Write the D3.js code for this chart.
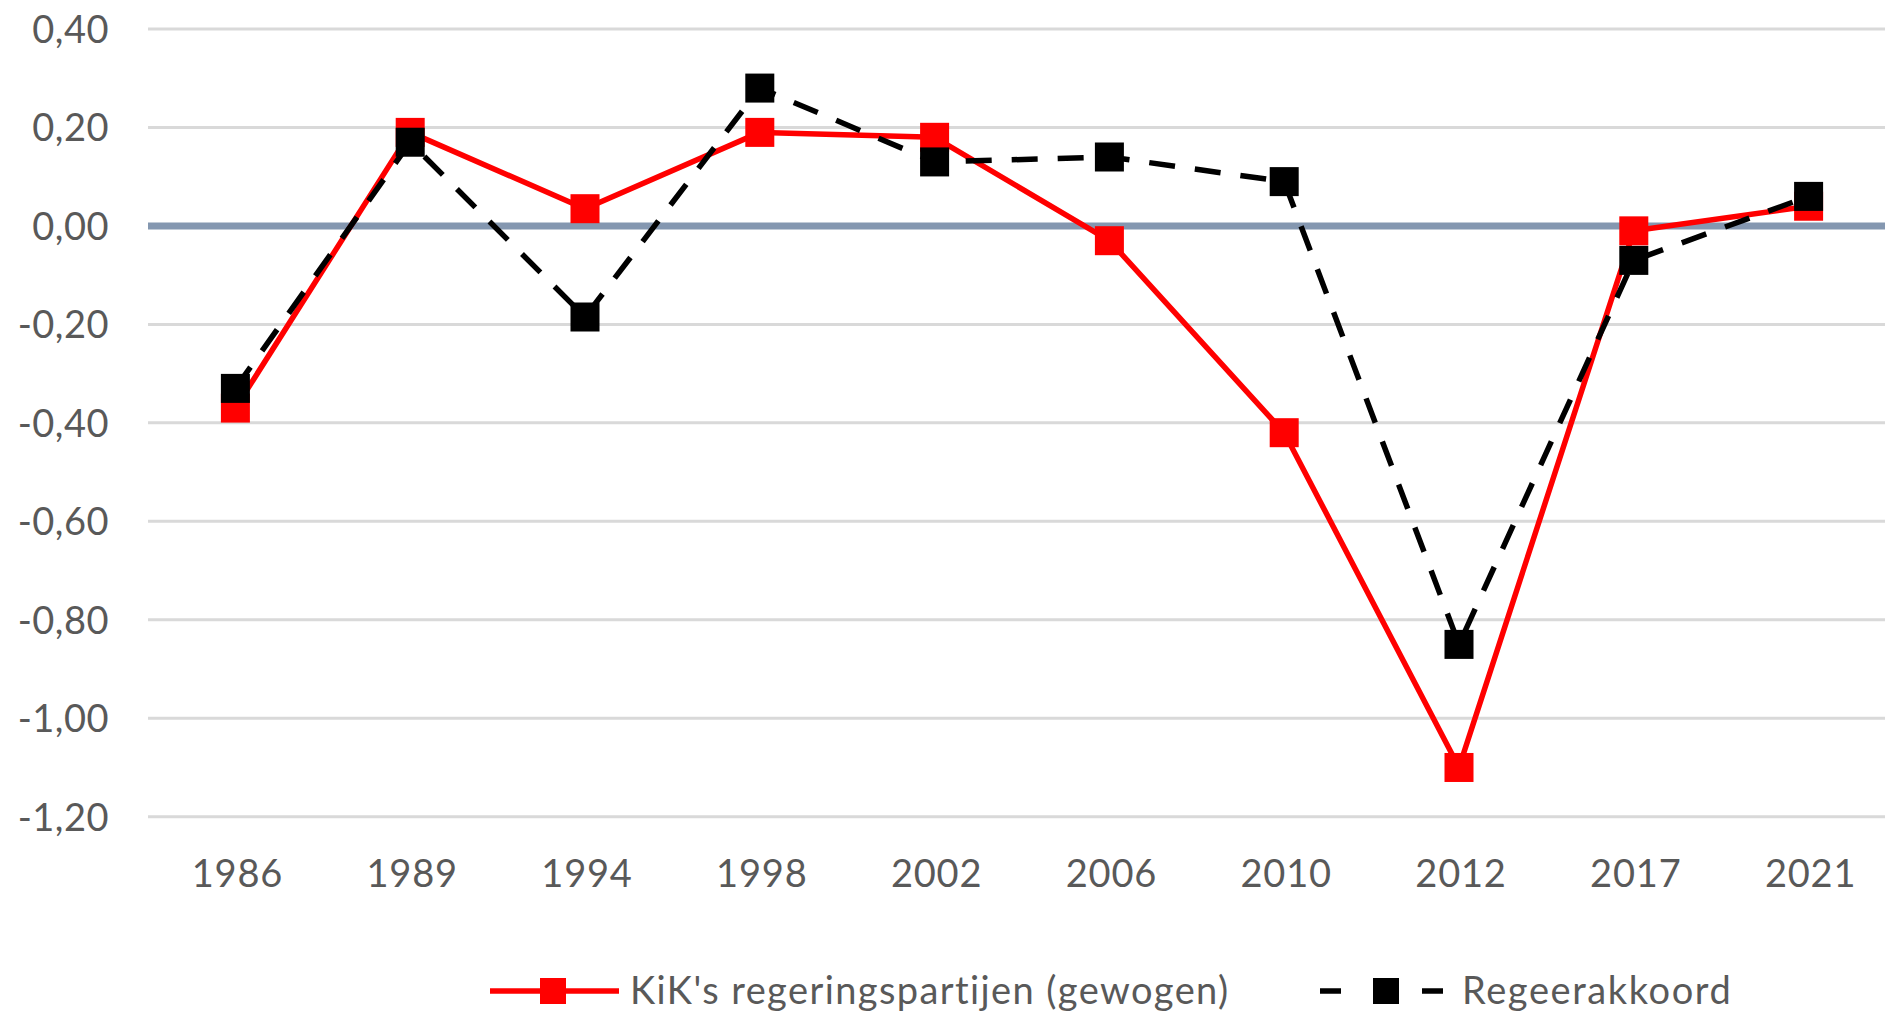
<!DOCTYPE html>
<html>
<head>
<meta charset="utf-8">
<script src="https://cdn.jsdelivr.net/npm/d3@7"></script>
<style>
  html, body { margin: 0; padding: 0; background: #fff; }
  svg { display: block; }
  text { font-family: Lato, "Open Sans", sans-serif; fill: #595959; }
</style>
</head>
<body>
<svg id="chart" width="1885" height="1014"></svg>
<script>
const categories = ["1986","1989","1994","1998","2002","2006","2010","2012","2017","2021"];
const kikValues = [-0.37, 0.19, 0.035, 0.19, 0.18, -0.03, -0.42, -1.10, -0.01, 0.04];
const regeerValues = [-0.33, 0.17, -0.185, 0.28, 0.13, 0.14, 0.09, -0.85, -0.07, 0.06];
const yTicks = [0.4, 0.2, 0, -0.2, -0.4, -0.6, -0.8, -1.0, -1.2];
const seriesNames = ["KiK's regeringspartijen (gewogen)", "Regeerakkoord"];

const svg = d3.select("#chart");
const W = 1885, H = 1014;
svg.append("rect").attr("width", W).attr("height", H).attr("fill", "#fff");

const x = d3.scaleBand().domain(categories).range([148, 1896]);
const y = d3.scaleLinear().domain([-1.2, 0.4]).range([816.7, 29]);
const fmt = v => d3.format(".2f")(v).replace(".", ",").replace("−", "-");

// gridlines
svg.append("g").selectAll("line").data(yTicks.filter(t => t !== 0)).join("line")
  .attr("x1", 148).attr("x2", W)
  .attr("y1", d => y(d)).attr("y2", d => y(d))
  .attr("stroke", "#d9d9d9").attr("stroke-width", 3);

// y axis labels
const yAxis = d3.axisLeft(y).tickValues(yTicks).tickFormat(fmt).tickSize(0).tickPadding(0);
const yg = svg.append("g").attr("transform", "translate(109,0)").call(yAxis);
yg.select(".domain").remove();
yg.selectAll("text").attr("font-size", 38).attr("font-family", "Lato, sans-serif")
  .attr("fill", "#595959").attr("dy", "0.35em").attr("letter-spacing", 0.5);

// zero axis line
svg.append("line").attr("x1", 148).attr("x2", W)
  .attr("y1", y(0)).attr("y2", y(0))
  .attr("stroke", "#8497b0").attr("stroke-width", 7);

// x axis labels
const xAxis = d3.axisBottom(x).tickSize(0).tickPadding(0);
const xg = svg.append("g").attr("transform", "translate(2,860)").call(xAxis);
xg.select(".domain").remove();
xg.selectAll("text").attr("font-size", 38).attr("font-family", "Lato, sans-serif")
  .attr("fill", "#595959").attr("dy", "0.71em").attr("letter-spacing", 0.8);

const cx = c => x(c) + x.bandwidth() / 2;
const line = d3.line().x((d, i) => cx(categories[i])).y(d => y(d));
const MS = 29;

// red series
svg.append("path").datum(kikValues).attr("d", line)
  .attr("fill", "none").attr("stroke", "#ff0000").attr("stroke-width", 5.5)
  .attr("stroke-linejoin", "round");
svg.append("g").selectAll("rect").data(kikValues).join("rect")
  .attr("x", (d, i) => cx(categories[i]) - MS / 2).attr("y", d => y(d) - MS / 2)
  .attr("width", MS).attr("height", MS).attr("fill", "#ff0000");

// black dashed series
svg.append("path").datum(regeerValues).attr("d", line)
  .attr("fill", "none").attr("stroke", "#000").attr("stroke-width", 5.5)
  .attr("stroke-dasharray", "26,20").attr("stroke-linejoin", "round");
svg.append("g").selectAll("rect").data(regeerValues).join("rect")
  .attr("x", (d, i) => cx(categories[i]) - MS / 2).attr("y", d => y(d) - MS / 2)
  .attr("width", MS).attr("height", MS).attr("fill", "#000");

// legend
const ly = 991;
const lg = svg.append("g");
lg.append("line").attr("x1", 490).attr("x2", 619).attr("y1", ly).attr("y2", ly)
  .attr("stroke", "#ff0000").attr("stroke-width", 5.5);
lg.append("rect").attr("x", 553 - 13).attr("y", ly - 13).attr("width", 26).attr("height", 26).attr("fill", "#ff0000");
lg.append("text").attr("x", 630).attr("y", ly).attr("dy", "0.35em")
  .attr("font-size", 38).attr("letter-spacing", 1.4).text(seriesNames[0]);

lg.append("line").attr("x1", 1320).attr("x2", 1443).attr("y1", ly).attr("y2", ly)
  .attr("stroke", "#000").attr("stroke-width", 5.5).attr("stroke-dasharray", "21,81");
lg.append("rect").attr("x", 1386 - 13).attr("y", ly - 13).attr("width", 26).attr("height", 26).attr("fill", "#000");
lg.append("text").attr("x", 1462).attr("y", ly).attr("dy", "0.35em")
  .attr("font-size", 38).attr("letter-spacing", 1.6).text(seriesNames[1]);
</script>
</body>
</html>
